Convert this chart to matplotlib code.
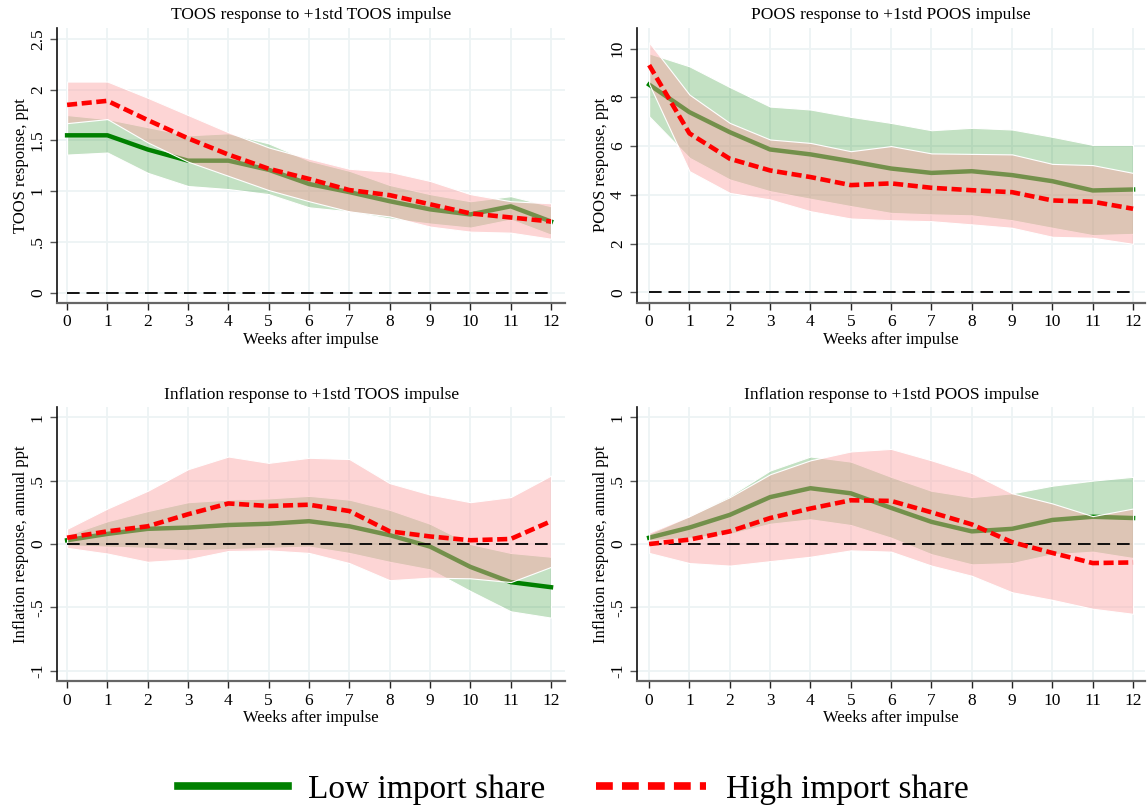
import matplotlib
matplotlib.use("Agg")
import matplotlib.pyplot as plt
from matplotlib.lines import Line2D
import numpy as np

plt.rcParams['font.family'] = ['Liberation Serif', 'DejaVu Serif']

# ============================================
# DATA
# ============================================
weeks = list(range(13))

# TOOS response to TOOS impulse
toos_low = [1.55, 1.55, 1.41, 1.30, 1.30, 1.21, 1.07, 0.99, 0.90, 0.82, 0.77, 0.85, 0.70]
toos_low_lo = [1.36, 1.38, 1.18, 1.05, 1.02, 0.97, 0.84, 0.80, 0.73, 0.68, 0.64, 0.72, 0.57]
toos_low_hi = [1.75, 1.71, 1.63, 1.55, 1.57, 1.47, 1.30, 1.20, 1.06, 0.97, 0.90, 0.95, 0.85]
toos_high = [1.85, 1.89, 1.70, 1.52, 1.36, 1.22, 1.12, 1.01, 0.96, 0.87, 0.78, 0.74, 0.70]
toos_high_lo = [1.67, 1.71, 1.48, 1.29, 1.15, 1.01, 0.90, 0.80, 0.75, 0.65, 0.60, 0.59, 0.53]
toos_high_hi = [2.08, 2.08, 1.92, 1.75, 1.58, 1.43, 1.32, 1.22, 1.19, 1.10, 0.97, 0.90, 0.88]

# POOS response to POOS impulse
poos_low = [8.52, 7.39, 6.57, 5.86, 5.66, 5.38, 5.08, 4.90, 4.97, 4.81, 4.56, 4.18, 4.22]
poos_low_lo = [7.22, 5.52, 4.63, 4.15, 3.84, 3.54, 3.26, 3.20, 3.16, 2.96, 2.65, 2.35, 2.40]
poos_low_hi = [9.80, 9.27, 8.42, 7.62, 7.50, 7.20, 6.95, 6.65, 6.75, 6.68, 6.38, 6.05, 6.05]
poos_high = [9.32, 6.52, 5.48, 5.00, 4.73, 4.40, 4.47, 4.29, 4.19, 4.11, 3.77, 3.72, 3.43]
poos_high_lo = [8.55, 4.97, 4.08, 3.81, 3.33, 3.03, 2.96, 2.92, 2.79, 2.65, 2.28, 2.24, 1.99]
poos_high_hi = [10.25, 8.11, 6.95, 6.27, 6.13, 5.79, 6.00, 5.70, 5.68, 5.66, 5.27, 5.22, 4.90]

# Inflation response to TOOS impulse
inf_toos_low = [0.03, 0.08, 0.12, 0.13, 0.15, 0.16, 0.18, 0.14, 0.07, -0.02, -0.18, -0.30, -0.34]
inf_toos_low_lo = [-0.01, -0.02, -0.03, -0.05, -0.04, -0.03, -0.02, -0.07, -0.14, -0.20, -0.37, -0.53, -0.58]
inf_toos_low_hi = [0.07, 0.18, 0.26, 0.33, 0.35, 0.36, 0.38, 0.35, 0.27, 0.16, 0.00, -0.07, -0.10]
inf_toos_high = [0.05, 0.10, 0.14, 0.235, 0.32, 0.30, 0.31, 0.26, 0.10, 0.06, 0.03, 0.04, 0.18]
inf_toos_high_lo = [-0.03, -0.075, -0.14, -0.12, -0.055, -0.05, -0.07, -0.15, -0.285, -0.265, -0.27, -0.30, -0.18]
inf_toos_high_hi = [0.12, 0.28, 0.42, 0.59, 0.69, 0.64, 0.68, 0.67, 0.48, 0.39, 0.33, 0.37, 0.54]

# Inflation response to POOS impulse
inf_poos_low = [0.05, 0.13, 0.23, 0.37, 0.44, 0.40, 0.285, 0.175, 0.10, 0.12, 0.19, 0.215, 0.205]
inf_poos_low_lo = [0.03, 0.05, 0.08, 0.16, 0.195, 0.15, 0.05, -0.08, -0.16, -0.15, -0.08, -0.06, -0.11]
inf_poos_low_hi = [0.08, 0.22, 0.38, 0.58, 0.69, 0.65, 0.53, 0.42, 0.37, 0.40, 0.46, 0.50, 0.53]
inf_poos_high = [0.00, 0.035, 0.10, 0.205, 0.28, 0.345, 0.34, 0.25, 0.155, 0.015, -0.07, -0.15, -0.145]
inf_poos_high_lo = [-0.07, -0.15, -0.17, -0.135, -0.10, -0.05, -0.06, -0.17, -0.25, -0.38, -0.44, -0.51, -0.55]
inf_poos_high_hi = [0.09, 0.22, 0.37, 0.55, 0.66, 0.73, 0.75, 0.66, 0.56, 0.40, 0.32, 0.22, 0.28]

titles = ["TOOS response to +1std TOOS impulse",
          "POOS response to +1std POOS impulse",
          "Inflation response to +1std TOOS impulse",
          "Inflation response to +1std POOS impulse"]
ylabels = ["TOOS response, ppt", "POOS response, ppt",
           "Inflation response, annual ppt", "Inflation response, annual ppt"]

toos_ticks = [0, 0.5, 1, 1.5, 2, 2.5]
toos_ticklabels = ["0", ".5", "1", "1.5", "2", "2.5"]
poos_ticks = [0, 2, 4, 6, 8, 10]
poos_ticklabels = ["0", "2", "4", "6", "8", "10"]
infl_ticks = [-1, -0.5, 0, 0.5, 1]
infl_ticklabels = ["-1", "-.5", "0", ".5", "1"]

legend_labels = ["Low import share", "High import share"]

# ============================================
# STYLE
# ============================================
GREEN = "#008000"
RED = "#ff0000"
GREEN_BAND = (0.0, 0.5, 0.0, 0.235)
RED_BAND = (252 / 255, 165 / 255, 165 / 255, 0.46)
GRID = "#edf3f4"

panels = [
    dict(low=toos_low, low_lo=toos_low_lo, low_hi=toos_low_hi,
         high=toos_high, high_lo=toos_high_lo, high_hi=toos_high_hi,
         ticks=toos_ticks, labels=toos_ticklabels, ylim=(-0.10, 2.61),
         pos=[0.0497, 0.6245, 0.443, 0.341], xlim=(-0.25, 12.35)),
    dict(low=poos_low, low_lo=poos_low_lo, low_hi=poos_low_hi,
         high=poos_high, high_lo=poos_high_lo, high_hi=poos_high_hi,
         ticks=poos_ticks, labels=poos_ticklabels, ylim=(-0.42, 10.85),
         pos=[0.5554, 0.6245, 0.443, 0.341], xlim=(-0.3, 12.3)),
    dict(low=inf_toos_low, low_lo=inf_toos_low_lo, low_hi=inf_toos_low_hi,
         high=inf_toos_high, high_lo=inf_toos_high_lo, high_hi=inf_toos_high_hi,
         ticks=infl_ticks, labels=infl_ticklabels, ylim=(-1.08, 1.08),
         pos=[0.0497, 0.155, 0.443, 0.340], xlim=(-0.25, 12.35)),
    dict(low=inf_poos_low, low_lo=inf_poos_low_lo, low_hi=inf_poos_low_hi,
         high=inf_poos_high, high_lo=inf_poos_high_lo, high_hi=inf_poos_high_hi,
         ticks=infl_ticks, labels=infl_ticklabels, ylim=(-1.08, 1.08),
         pos=[0.5554, 0.155, 0.443, 0.340], xlim=(-0.3, 12.3)),
]

fig = plt.figure(figsize=(11.47, 8.06), dpi=100)

for p, title, ylabel in zip(panels, titles, ylabels):
    ax = fig.add_axes(p["pos"])
    ax.set_axisbelow(True)
    ax.grid(True, color=GRID, linewidth=1.3)

    # bands + lines, red band drawn over the green line like the original
    ax.fill_between(weeks, p["low_lo"], p["low_hi"], facecolor=GREEN_BAND,
                    edgecolor="white", linewidth=0.8, zorder=2)
    ax.plot(weeks, p["low"], color=GREEN, linewidth=3.2, zorder=3,
            solid_joinstyle="round")
    ax.fill_between(weeks, p["high_lo"], p["high_hi"], facecolor=RED_BAND,
                    edgecolor="white", linewidth=0.8, zorder=4)
    ax.plot(weeks, np.zeros(len(weeks)), color="black", linewidth=1.3,
            dashes=(7, 3.8), zorder=5)
    ax.plot(weeks, p["high"], color=RED, linewidth=3.3, dashes=(2.2, 1.0),
            zorder=6)

    ax.set_xlim(*p["xlim"])
    ax.set_ylim(*p["ylim"])
    ax.set_xticks(weeks)
    ax.set_yticks(p["ticks"])
    ax.set_yticklabels(p["labels"], rotation=90, va="center")
    ax.tick_params(axis="both", labelsize=12.5, direction="out", length=5,
                   width=1)
    ax.tick_params(axis="x", color="#222222")
    ax.tick_params(axis="y", color="#555555", pad=3)

    for side in ["top", "right"]:
        ax.spines[side].set_visible(False)
    ax.spines["left"].set_color("#111111")
    ax.spines["left"].set_linewidth(1.2)
    ax.spines["bottom"].set_color("#666666")
    ax.spines["bottom"].set_linewidth(1.6)

    ax.set_title(title, fontsize=12.5, pad=6)
    ax.set_xlabel("Weeks after impulse", fontsize=12, labelpad=1)
    ax.set_ylabel(ylabel, fontsize=12, labelpad=1)

handles = [Line2D([], [], color=GREEN, linewidth=5.5),
           Line2D([], [], color=RED, linewidth=5.5, dashes=(2.2, 1.2))]
fig.legend(handles, legend_labels, loc="center", bbox_to_anchor=(0.5, 0.02),
           ncol=2, frameon=False, fontsize=24, handlelength=3.3,
           handletextpad=0.6, columnspacing=1.5)

fig.savefig("out.png", dpi=100)
